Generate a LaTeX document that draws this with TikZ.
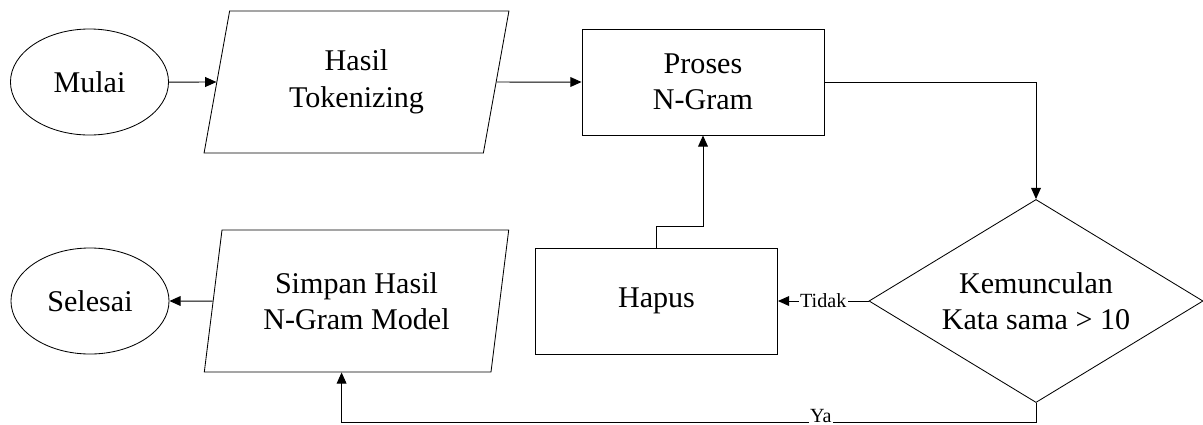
\documentclass[tikz,border=0pt]{standalone}
\usepackage{fontspec}
\setmainfont{Liberation Serif}
\usetikzlibrary{arrows.meta,shapes.geometric,calc}

\begin{document}
\begin{tikzpicture}[
    x=0.025cm, y=-0.025cm,
    >={Triangle[length=8pt,width=7pt]},
    termnode/.style={ellipse, draw, minimum width=3.95cm, minimum height=2.65cm,
        inner sep=0pt, font=\fontsize{21.4pt}{26pt}\selectfont, align=center, line width=0.6pt},
    ionode/.style={trapezium, trapezium left angle=78, trapezium right angle=102,
        trapezium stretches=true, draw, minimum width=7.625cm, minimum height=3.55cm,
        inner sep=0pt, font=\fontsize{21.4pt}{26pt}\selectfont, align=center, line width=0.6pt},
    procnode/.style={rectangle, draw, minimum width=6.05cm, minimum height=2.65cm,
        font=\fontsize{21.4pt}{26pt}\selectfont, align=center, line width=0.6pt},
    decnode/.style={diamond, draw, aspect=1.65, minimum width=8.35cm, minimum height=5.075cm,
        inner sep=0pt, font=\fontsize{21.4pt}{26pt}\selectfont, align=center, line width=0.6pt},
    flowarr/.style={->, line width=0.7pt},
    lbl/.style={font=\fontsize{14.3pt}{16pt}\selectfont, fill=white, inner sep=1pt},
]
\useasboundingbox (0,0) rectangle (1203,424);

% === Top row ===
\node[termnode] (mulai)  at (89.5, 82)  {Mulai};
\node[ionode]   (hasil)  at (356.5, 82) {Hasil\\Tokenizing};
\node[procnode] (proses) at (703, 82)   {Proses\\N-Gram};

% === Bottom row ===
\node[decnode]  (dec)     at (1036, 301)  {Kemunculan\\Kata sama > 10};
\node[procnode] (hapus)   at (656.5, 301) {Hapus};
\node[ionode]   (simpan)  at (356.5, 301) {Simpan Hasil\\N-Gram Model};
\node[termnode] (selesai) at (90, 301)    {Selesai};

% Flow arrows
\draw[flowarr] (mulai.east) -- (hasil.west);
\draw[flowarr] (hasil.east) -- (proses.west);
\draw[flowarr] (proses.east) -| (dec.north);
\draw[flowarr] (dec.west) -- (hapus.east) node[midway, lbl] {Tidak};
\draw[flowarr] (hapus.north) -- ++(0,-21) -| (proses.south);
\draw[flowarr] (dec.south) -- ++(0,20) -| node[pos=0.155, lbl, anchor=base, yshift=0.6pt, inner ysep=0.8pt] {Ya} ($(simpan.bottom side)+(-6,0)$);
\draw[flowarr] (simpan.west) -- (selesai.east);

\end{tikzpicture}
\end{document}
